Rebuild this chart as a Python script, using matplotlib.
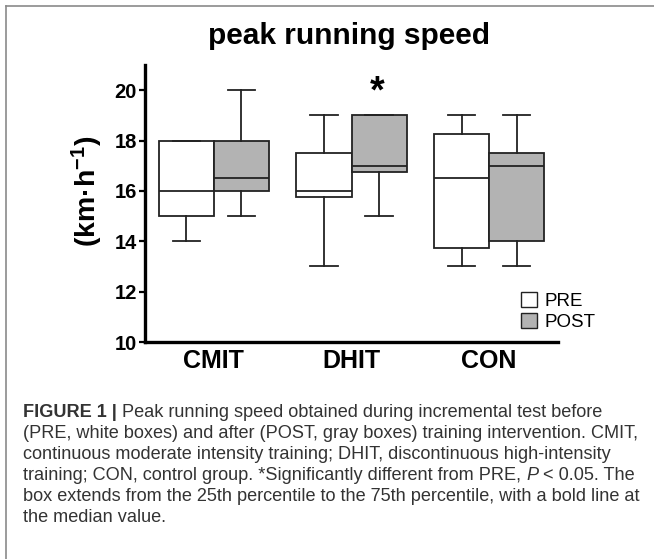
import matplotlib

matplotlib.use("Agg")
import matplotlib.pyplot as plt
from matplotlib.lines import Line2D
from matplotlib.patches import Patch

plt.rcParams["font.family"] = ["Liberation Sans", "DejaVu Sans"]
plt.rcParams["mathtext.default"] = "regular"

# data
groups = ["CMIT", "DHIT", "CON"]
pre_whislo = [14, 13, 13]
pre_q1 = [15, 15.75, 13.75]
pre_med = [16, 16, 16.5]
pre_q3 = [18, 17.5, 18.25]
pre_whishi = [18, 19, 19]
post_whislo = [15, 15, 13]
post_q1 = [16, 16.75, 14]
post_med = [16.5, 17, 17]
post_q3 = [18, 19, 17.5]
post_whishi = [20, 19, 19]
yticks = [10, 12, 14, 16, 18, 20]
star_group = "DHIT"

caption_first = "Peak running speed obtained during incremental test before"
caption_lines = [
    "(PRE, white boxes) and after (POST, gray boxes) training intervention. CMIT,",
    "continuous moderate intensity training; DHIT, discontinuous high-intensity",
    "training; CON, control group. *Significantly different from PRE, ",
    "box extends from the 25th percentile to the 75th percentile, with a bold line at",
    "the median value.",
]


def make_stats(lo, q1, med, q3, hi):
    return [
        dict(whislo=a, q1=b, med=c, q3=d, whishi=e, fliers=[])
        for a, b, c, d, e in zip(lo, q1, med, q3, hi)
    ]


W, H = 654, 559
fig = plt.figure(figsize=(W / 100, H / 100), dpi=100)
ax = fig.add_axes([145 / W, 1 - 342 / H, 413 / W, 277 / H])

x = list(range(len(groups)))
edge = "#222222"
common = dict(
    widths=0.4,
    capwidths=0.2,
    patch_artist=True,
    showfliers=False,
    medianprops=dict(color=edge, linewidth=1.3),
    whiskerprops=dict(color=edge, linewidth=1.3),
    capprops=dict(color=edge, linewidth=1.3),
)
ax.bxp(
    make_stats(pre_whislo, pre_q1, pre_med, pre_q3, pre_whishi),
    positions=[i - 0.2 for i in x],
    boxprops=dict(facecolor="white", edgecolor=edge, linewidth=1.3),
    **common,
)
ax.bxp(
    make_stats(post_whislo, post_q1, post_med, post_q3, post_whishi),
    positions=[i + 0.2 for i in x],
    boxprops=dict(facecolor="#b3b3b3", edgecolor=edge, linewidth=1.3),
    **common,
)

si = groups.index(star_group)
ax.text(si + 0.185, 19.5, "*", ha="center", va="baseline",
        fontsize=27, fontweight="bold")

ax.set_xlim(-0.5, 2.5)
ax.set_ylim(10, 21)
ax.set_xticks(x)
ax.set_xticklabels(groups, fontsize=18, fontweight="bold")
ax.set_yticks(yticks)
ax.set_yticklabels([str(v) for v in yticks], fontsize=14.5, fontweight="bold")
ax.tick_params(axis="x", length=0, pad=5)
ax.tick_params(axis="y", length=4, width=1.6, pad=2)
for s in ["top", "right"]:
    ax.spines[s].set_visible(False)
for s in ["left", "bottom"]:
    ax.spines[s].set_linewidth(2.4)

ax.set_ylabel("(km·h$^{-1}$)", fontsize=20.5, fontweight="bold")
ax.yaxis.set_label_coords((87 - 145) / 413, (342 - 191) / 277)
ax.yaxis.label.set_verticalalignment("center")

ax.legend(
    handles=[
        Patch(facecolor="white", edgecolor=edge, linewidth=1.0, label="PRE"),
        Patch(facecolor="#b3b3b3", edgecolor=edge, linewidth=1.0, label="POST"),
    ],
    loc="upper left",
    bbox_to_anchor=(521 / W, 1 - 292 / H),
    bbox_transform=fig.transFigure,
    frameon=False,
    fontsize=13.5,
    handlelength=0.85,
    handleheight=0.85,
    handletextpad=0.4,
    labelspacing=0.15,
    borderpad=0,
    borderaxespad=0,
)

fig.text(349 / W, 1 - 44 / H, "peak running speed", ha="center",
         va="baseline", fontsize=21.5, fontweight="bold")

# outer frame (top and left only)
fig.add_artist(Line2D([6 / W, 1], [1 - 6 / H, 1 - 6 / H],
                      transform=fig.transFigure, color="#8a8a8a", linewidth=1.2))
fig.add_artist(Line2D([6 / W, 6 / W], [0, 1 - 6 / H],
                      transform=fig.transFigure, color="#8a8a8a", linewidth=1.2))

# caption
cap_kw = dict(fontsize=13.05, color="#333333")
x0 = 23 / W
base = 417
step = 21.1
t = fig.text(x0, 1 - base / H, "FIGURE 1 | ", fontweight="bold",
             va="baseline", **cap_kw)
plt.annotate(caption_first, xy=(1, 0), xycoords=t, va="bottom", ha="left",
             **cap_kw)
for i, line in enumerate(caption_lines):
    tl = fig.text(x0, 1 - (base + step * (i + 1)) / H, line,
                  va="baseline", **cap_kw)
    if i == 2:
        tp = plt.annotate("P", xy=(1, 0), xycoords=tl, va="bottom",
                          ha="left", fontstyle="italic", **cap_kw)
        plt.annotate(" < 0.05. The", xy=(1, 0), xycoords=tp, va="bottom",
                     ha="left", **cap_kw)

fig.savefig("out.png", dpi=100)
